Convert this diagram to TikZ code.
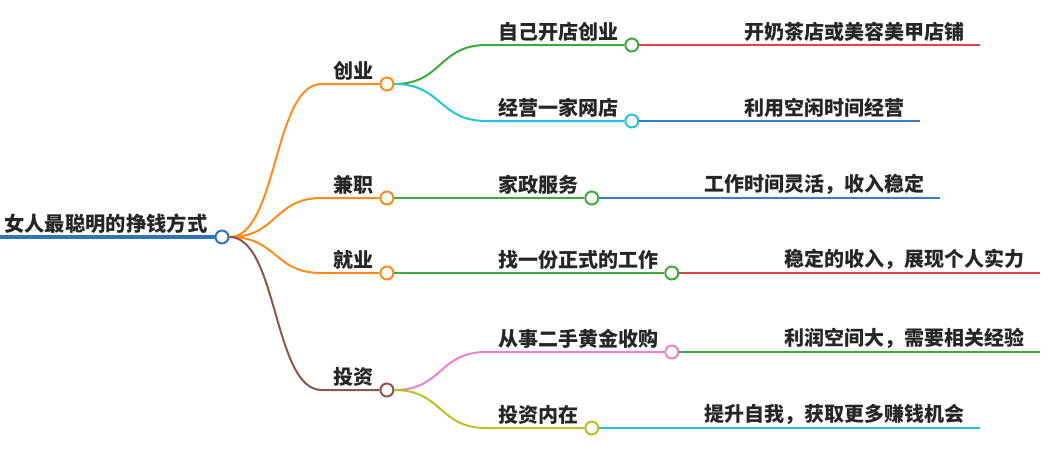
\documentclass[tikz,border=0pt]{standalone}
\usepackage{fontspec}
\newfontfamily\cjk{Noto Sans CJK SC}
\usetikzlibrary{calc}

\definecolor{rootblue}{RGB}{46,117,182}
\definecolor{corange}{RGB}{255,140,26}
\definecolor{cbrown}{RGB}{140,86,75}
\definecolor{cgreen}{RGB}{60,170,60}
\definecolor{ccyan}{RGB}{40,195,215}
\definecolor{cred}{RGB}{225,65,75}
\definecolor{cblue}{RGB}{55,125,200}
\definecolor{cpink}{RGB}{235,130,205}
\definecolor{colive}{RGB}{190,190,40}

\begin{document}
\begin{tikzpicture}[x=1pt,y=-1pt,
  dot/.style={circle,draw=#1,fill=white,line width=2pt,inner sep=0pt,minimum size=13pt},
  lbl/.style={inner sep=0pt,text=black!85,font=\cjk\bfseries\fontsize{20}{24}\selectfont},
  link/.style={line width=2pt,#1}]
  \useasboundingbox (0,0) rectangle (1054,466);

  % root
  \coordinate (R0) at (0,237);
  \node[dot=rootblue] (R) at (222,237) {};
  \node[lbl,font=\cjk\bfseries\fontsize{20.3}{24}\selectfont,anchor=south east]
    (tR) at ($(R.west)+(-7,-3)$) {女人最聪明的挣钱方式};
  \draw[rootblue,line width=4pt] (R0) -- (R.west);

  % first and second level
  \foreach \p/\n/\y/\col/\lab in {R/A/84/corange/创业,R/B/198/corange/兼职,
      R/C/273/corange/就业,R/D/390/cbrown/投资,
      A/A1/45/cgreen/自己开店创业,A/A2/121/ccyan/经营一家网店,
      B/B1/198/cgreen/家政服务,C/C1/273/cgreen/找一份正式的工作,
      D/D1/352/cpink/从事二手黄金收购,D/D2/428/colive/投资内在} {
    \node[lbl,anchor=south west] (t\n) at ($(\p.east |- 0,\y)+(104,-3)$) {\lab};
    \node[dot=\col] (\n) at ($(t\n.east |- 0,\y)+(13,0)$) {};
    \draw[link=\col] (\p.east) .. controls +(48,0) and +(-48,0)
      .. ($(t\n.west |- \n)+(-12,0)$) -- (\n.west);
  }

  % leaves
  \foreach \p/\n/\col/\lab in {A1/L1/cred/开奶茶店或美容美甲店铺,
      A2/L2/cblue/利用空闲时间经营,B1/L3/cblue/工作时间灵活，收入稳定,
      C1/L4/cred/稳定的收入，展现个人实力,D1/L5/cgreen/利润空间大，需要相关经验,
      D2/L6/ccyan/提升自我，获取更多赚钱机会} {
    \node[lbl,anchor=south west] (t\n) at ($(\p.east)+(105,-3)$) {\lab};
    \coordinate (\n) at ($(t\n.east |- \p)+(15,0)$);
    \draw[link=\col] (\p.east) -- (\n);
  }
\end{tikzpicture}
\end{document}
